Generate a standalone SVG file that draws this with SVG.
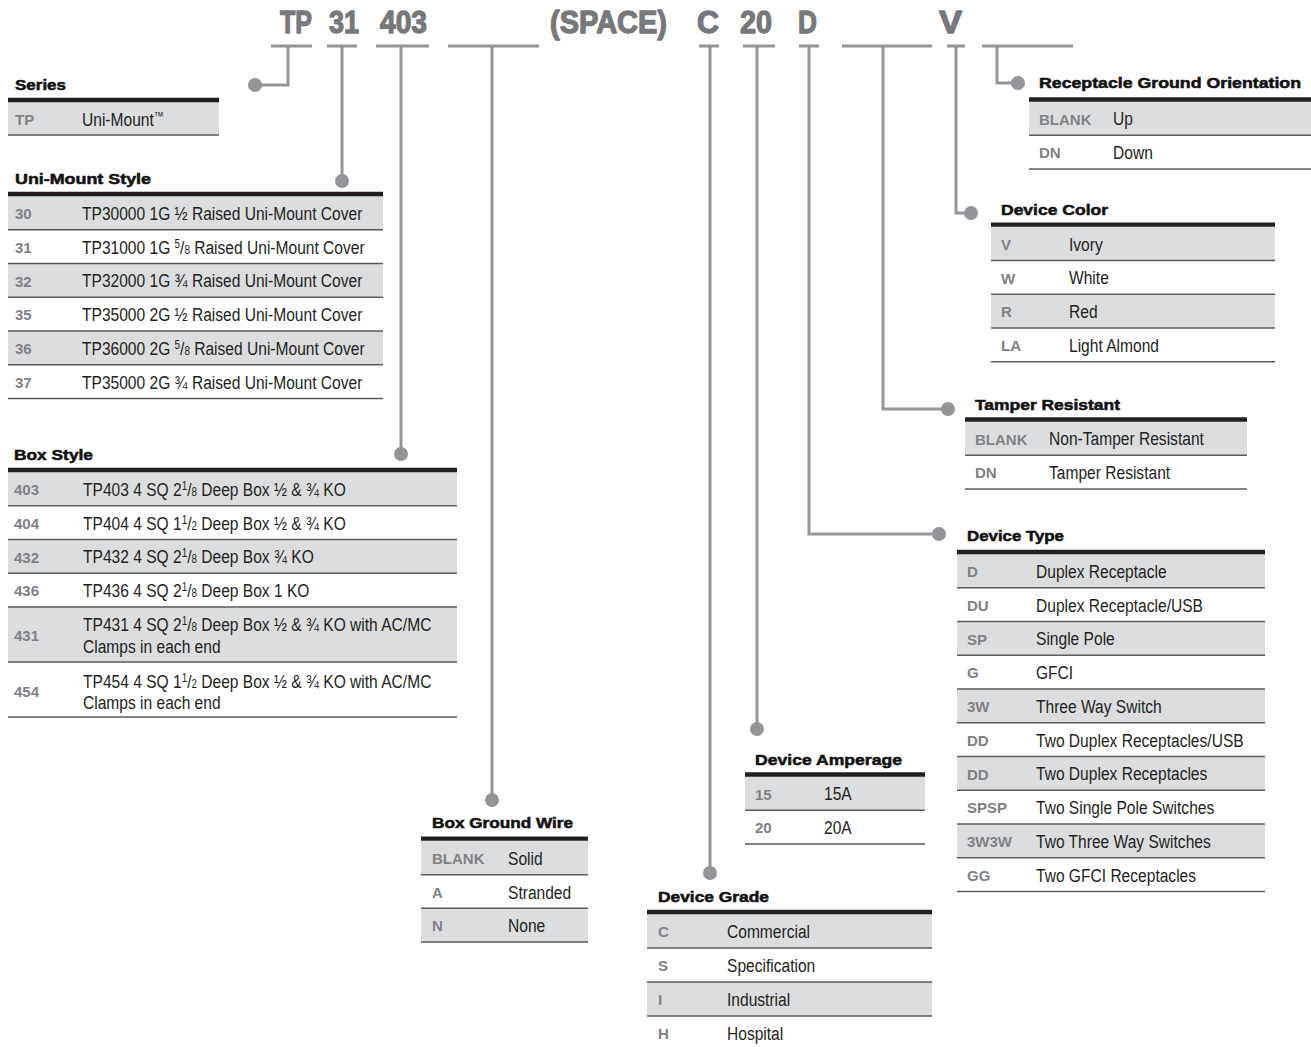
<svg xmlns="http://www.w3.org/2000/svg" width="1311" height="1047" viewBox="0 0 1311 1047">
<defs>
<style>
.hdr{font-family:"Liberation Sans",Arial,sans-serif;font-weight:bold;font-size:32px;fill:#77787b;stroke:#77787b;stroke-width:1.3;stroke-linejoin:round}
.title{font-family:"Liberation Sans",Arial,sans-serif;font-weight:bold;font-size:15.5px;fill:#111;stroke:#111;stroke-width:0.55}
.code{font-family:"Liberation Sans",Arial,sans-serif;font-weight:bold;font-size:15px;fill:#7f8184}
.desc{font-family:"Liberation Sans",Arial,sans-serif;font-size:19px;fill:#231f20}
.g{fill:#dcdddf}
.thick{stroke:#231f20;stroke-width:4.3}
.sep{stroke:#5a5b5d;stroke-width:1.6}
.conn{stroke:#939598;stroke-width:3;fill:none}
.dot{fill:#939598}
</style>
</defs>
<rect width="1311" height="1047" fill="#fff"/>

<g id="header-code">
<text class="hdr" x="280" y="33" textLength="32" lengthAdjust="spacingAndGlyphs">TP</text>
<text class="hdr" x="329" y="33" textLength="30" lengthAdjust="spacingAndGlyphs">31</text>
<text class="hdr" x="380" y="33" textLength="47" lengthAdjust="spacingAndGlyphs">403</text>
<text class="hdr" x="550" y="33" textLength="117" lengthAdjust="spacingAndGlyphs">(SPACE)</text>
<text class="hdr" x="697" y="33" textLength="22" lengthAdjust="spacingAndGlyphs">C</text>
<text class="hdr" x="740" y="33" textLength="32" lengthAdjust="spacingAndGlyphs">20</text>
<text class="hdr" x="798" y="33" textLength="19" lengthAdjust="spacingAndGlyphs">D</text>
<text class="hdr" x="939" y="33" textLength="23" lengthAdjust="spacingAndGlyphs">V</text>
</g>

<g id="connectors">
<path class="conn" d="M271 46H312M288 46V85H255"/>
<circle class="dot" cx="255" cy="85" r="7"/>
<path class="conn" d="M327 46H357M342 46V181"/>
<circle class="dot" cx="342" cy="181" r="7"/>
<path class="conn" d="M376 46H429M401 46V454"/>
<circle class="dot" cx="401" cy="454" r="7"/>
<path class="conn" d="M448 46H539M492 46V800"/>
<circle class="dot" cx="492" cy="800" r="7"/>
<path class="conn" d="M699 46H719M710 46V873"/>
<circle class="dot" cx="710" cy="873" r="7"/>
<path class="conn" d="M743 46H775M757 46V729"/>
<circle class="dot" cx="757" cy="729" r="7"/>
<path class="conn" d="M799 46H819M809 46V534H939"/>
<circle class="dot" cx="939" cy="534" r="7"/>
<path class="conn" d="M842 46H932M883 46V409H948"/>
<circle class="dot" cx="948" cy="409" r="7"/>
<path class="conn" d="M947 46H965M956 46V213H971"/>
<circle class="dot" cx="971" cy="213" r="7"/>
<path class="conn" d="M982 46H1073M997 46V83H1018"/>
<circle class="dot" cx="1018" cy="83" r="7"/>
</g>

<g id="series">
<text class="title" x="15" y="90" textLength="51" lengthAdjust="spacingAndGlyphs">Series</text>
<rect class="g" x="8" y="102" width="211" height="33"/>
<line class="thick" x1="8" y1="100" x2="219" y2="100"/>
<line class="sep" x1="8" y1="135" x2="219" y2="135"/>
<text class="code" x="15" y="125">TP</text>
<g transform="translate(82 0) scale(0.82 1)"><text class="desc" x="0" y="126">Uni-Mount<tspan font-size="12" dy="-6">™</tspan></text></g>
</g>

<g id="uni-mount-style">
<text class="title" x="15" y="184" textLength="136" lengthAdjust="spacingAndGlyphs">Uni-Mount Style</text>
<rect class="g" x="8" y="196" width="375" height="33.75"/>
<rect class="g" x="8" y="263.5" width="375" height="33.75"/>
<rect class="g" x="8" y="331" width="375" height="33.75"/>
<line class="thick" x1="8" y1="194" x2="383" y2="194"/>
<path class="sep" d="M8 229.75H383M8 263.5H383M8 297.25H383M8 331H383M8 364.75H383M8 398.5H383"/>
<text class="code" x="15" y="219">30</text>
<text class="code" x="15" y="252.75">31</text>
<text class="code" x="15" y="286.5">32</text>
<text class="code" x="15" y="320.25">35</text>
<text class="code" x="15" y="354">36</text>
<text class="code" x="15" y="387.75">37</text>
<g transform="translate(82 0) scale(0.82 1)">
<text class="desc" x="0" y="220">TP30000 1G ½ Raised Uni-Mount Cover</text>
<text class="desc" x="0" y="253.75">TP31000 1G <tspan font-size="12" dy="-6">5</tspan><tspan dy="6">/</tspan><tspan font-size="12">8</tspan> Raised Uni-Mount Cover</text>
<text class="desc" x="0" y="287.5">TP32000 1G ¾ Raised Uni-Mount Cover</text>
<text class="desc" x="0" y="321.25">TP35000 2G ½ Raised Uni-Mount Cover</text>
<text class="desc" x="0" y="355">TP36000 2G <tspan font-size="12" dy="-6">5</tspan><tspan dy="6">/</tspan><tspan font-size="12">8</tspan> Raised Uni-Mount Cover</text>
<text class="desc" x="0" y="388.75">TP35000 2G ¾ Raised Uni-Mount Cover</text>
</g>
</g>

<g id="box-style">
<text class="title" x="14" y="460" textLength="79" lengthAdjust="spacingAndGlyphs">Box Style</text>
<rect class="g" x="8" y="472" width="449" height="33.75"/>
<rect class="g" x="8" y="539.5" width="449" height="33.75"/>
<rect class="g" x="8" y="607" width="449" height="55"/>
<line class="thick" x1="8" y1="470" x2="457" y2="470"/>
<path class="sep" d="M8 505.75H457M8 539.5H457M8 573.25H457M8 607H457M8 662H457M8 717H457"/>
<text class="code" x="14" y="495">403</text>
<text class="code" x="14" y="528.75">404</text>
<text class="code" x="14" y="562.5">432</text>
<text class="code" x="14" y="596.25">436</text>
<text class="code" x="14" y="641">431</text>
<text class="code" x="14" y="697">454</text>
<g transform="translate(83 0) scale(0.82 1)">
<text class="desc" x="0" y="496">TP403 4 SQ 2<tspan font-size="12" dy="-6">1</tspan><tspan dy="6">/</tspan><tspan font-size="12">8</tspan> Deep Box ½ &amp; ¾ KO</text>
<text class="desc" x="0" y="529.75">TP404 4 SQ 1<tspan font-size="12" dy="-6">1</tspan><tspan dy="6">/</tspan><tspan font-size="12">2</tspan> Deep Box ½ &amp; ¾ KO</text>
<text class="desc" x="0" y="563.5">TP432 4 SQ 2<tspan font-size="12" dy="-6">1</tspan><tspan dy="6">/</tspan><tspan font-size="12">8</tspan> Deep Box ¾ KO</text>
<text class="desc" x="0" y="597.25">TP436 4 SQ 2<tspan font-size="12" dy="-6">1</tspan><tspan dy="6">/</tspan><tspan font-size="12">8</tspan> Deep Box 1 KO</text>
<text class="desc" x="0" y="631.5">TP431 4 SQ 2<tspan font-size="12" dy="-6">1</tspan><tspan dy="6">/</tspan><tspan font-size="12">8</tspan> Deep Box ½ &amp; ¾ KO with AC/MC</text>
<text class="desc" x="0" y="653">Clamps in each end</text>
<text class="desc" x="0" y="688">TP454 4 SQ 1<tspan font-size="12" dy="-6">1</tspan><tspan dy="6">/</tspan><tspan font-size="12">2</tspan> Deep Box ½ &amp; ¾ KO with AC/MC</text>
<text class="desc" x="0" y="709">Clamps in each end</text>
</g>
</g>

<g id="box-ground-wire">
<text class="title" x="432" y="828" textLength="141" lengthAdjust="spacingAndGlyphs">Box Ground Wire</text>
<rect class="g" x="421" y="841" width="167" height="33.7"/>
<rect class="g" x="421" y="908.3" width="167" height="33.7"/>
<line class="thick" x1="421" y1="838.7" x2="588" y2="838.7"/>
<path class="sep" d="M421 874.7H588M421 908.3H588M421 942H588"/>
<text class="code" x="432" y="864">BLANK</text>
<text class="code" x="432" y="897.7">A</text>
<text class="code" x="432" y="931.3">N</text>
<g transform="translate(508 0) scale(0.82 1)">
<text class="desc" x="0" y="865">Solid</text>
<text class="desc" x="0" y="898.7">Stranded</text>
<text class="desc" x="0" y="932.3">None</text>
</g>
</g>

<g id="device-grade">
<text class="title" x="658" y="902" textLength="111" lengthAdjust="spacingAndGlyphs">Device Grade</text>
<rect class="g" x="647" y="914" width="285" height="34"/>
<rect class="g" x="647" y="982" width="285" height="34"/>
<line class="thick" x1="647" y1="912" x2="932" y2="912"/>
<path class="sep" d="M647 948H932M647 982H932M647 1016H932"/>
<text class="code" x="658" y="937">C</text>
<text class="code" x="658" y="971">S</text>
<text class="code" x="658" y="1005">I</text>
<text class="code" x="658" y="1039">H</text>
<g transform="translate(727 0) scale(0.82 1)">
<text class="desc" x="0" y="938">Commercial</text>
<text class="desc" x="0" y="972">Specification</text>
<text class="desc" x="0" y="1006">Industrial</text>
<text class="desc" x="0" y="1040">Hospital</text>
</g>
</g>

<g id="device-amperage">
<text class="title" x="755" y="765" textLength="147" lengthAdjust="spacingAndGlyphs">Device Amperage</text>
<rect class="g" x="745" y="776.5" width="180" height="33.7"/>
<line class="thick" x1="745" y1="774.5" x2="925" y2="774.5"/>
<path class="sep" d="M745 810.2H925M745 844H925"/>
<text class="code" x="755" y="799.5">15</text>
<text class="code" x="755" y="833.2">20</text>
<g transform="translate(824 0) scale(0.82 1)">
<text class="desc" x="0" y="800.5">15A</text>
<text class="desc" x="0" y="834.2">20A</text>
</g>
</g>

<g id="receptacle-ground-orientation">
<text class="title" x="1039" y="88" textLength="262" lengthAdjust="spacingAndGlyphs">Receptacle Ground Orientation</text>
<rect class="g" x="1029" y="101.5" width="282" height="33.7"/>
<line class="thick" x1="1029" y1="99.5" x2="1311" y2="99.5"/>
<path class="sep" d="M1029 135.2H1311M1029 169H1311"/>
<text class="code" x="1039" y="124.5">BLANK</text>
<text class="code" x="1039" y="158.2">DN</text>
<g transform="translate(1113 0) scale(0.82 1)">
<text class="desc" x="0" y="125.5">Up</text>
<text class="desc" x="0" y="159.2">Down</text>
</g>
</g>

<g id="device-color">
<text class="title" x="1001" y="215" textLength="107" lengthAdjust="spacingAndGlyphs">Device Color</text>
<rect class="g" x="991" y="226.7" width="284" height="33.8"/>
<rect class="g" x="991" y="294.2" width="284" height="33.8"/>
<line class="thick" x1="991" y1="224.7" x2="1275" y2="224.7"/>
<path class="sep" d="M991 260.5H1275M991 294.2H1275M991 328H1275M991 361.7H1275"/>
<text class="code" x="1001" y="249.7">V</text>
<text class="code" x="1001" y="283.5">W</text>
<text class="code" x="1001" y="317.2">R</text>
<text class="code" x="1001" y="351">LA</text>
<g transform="translate(1069 0) scale(0.82 1)">
<text class="desc" x="0" y="250.7">Ivory</text>
<text class="desc" x="0" y="284.5">White</text>
<text class="desc" x="0" y="318.2">Red</text>
<text class="desc" x="0" y="352">Light Almond</text>
</g>
</g>

<g id="tamper-resistant">
<text class="title" x="975" y="410" textLength="145" lengthAdjust="spacingAndGlyphs">Tamper Resistant</text>
<rect class="g" x="965" y="421.5" width="282" height="33.7"/>
<line class="thick" x1="965" y1="419.5" x2="1247" y2="419.5"/>
<path class="sep" d="M965 455.2H1247M965 489H1247"/>
<text class="code" x="975" y="444.5">BLANK</text>
<text class="code" x="975" y="478.2">DN</text>
<g transform="translate(1049 0) scale(0.82 1)">
<text class="desc" x="0" y="445.5">Non-Tamper Resistant</text>
<text class="desc" x="0" y="479.2">Tamper Resistant</text>
</g>
</g>

<g id="device-type">
<text class="title" x="967" y="541" textLength="97" lengthAdjust="spacingAndGlyphs">Device Type</text>
<rect class="g" x="957" y="554" width="308" height="33.75"/>
<rect class="g" x="957" y="621.5" width="308" height="33.75"/>
<rect class="g" x="957" y="689" width="308" height="33.75"/>
<rect class="g" x="957" y="756.5" width="308" height="33.75"/>
<rect class="g" x="957" y="824" width="308" height="33.75"/>
<line class="thick" x1="957" y1="552" x2="1265" y2="552"/>
<path class="sep" d="M957 587.75H1265M957 621.5H1265M957 655.25H1265M957 689H1265M957 722.75H1265M957 756.5H1265M957 790.25H1265M957 824H1265M957 857.75H1265M957 891.5H1265"/>
<text class="code" x="967" y="577">D</text>
<text class="code" x="967" y="610.75">DU</text>
<text class="code" x="967" y="644.5">SP</text>
<text class="code" x="967" y="678.25">G</text>
<text class="code" x="967" y="712">3W</text>
<text class="code" x="967" y="745.75">DD</text>
<text class="code" x="967" y="779.5">DD</text>
<text class="code" x="967" y="813.25">SPSP</text>
<text class="code" x="967" y="847">3W3W</text>
<text class="code" x="967" y="880.75">GG</text>
<g transform="translate(1036 0) scale(0.82 1)">
<text class="desc" x="0" y="578">Duplex Receptacle</text>
<text class="desc" x="0" y="611.75">Duplex Receptacle/USB</text>
<text class="desc" x="0" y="645.5">Single Pole</text>
<text class="desc" x="0" y="679.25">GFCI</text>
<text class="desc" x="0" y="713">Three Way Switch</text>
<text class="desc" x="0" y="746.75">Two Duplex Receptacles/USB</text>
<text class="desc" x="0" y="780.5">Two Duplex Receptacles</text>
<text class="desc" x="0" y="814.25">Two Single Pole Switches</text>
<text class="desc" x="0" y="848">Two Three Way Switches</text>
<text class="desc" x="0" y="881.75">Two GFCI Receptacles</text>
</g>
</g>
</svg>
